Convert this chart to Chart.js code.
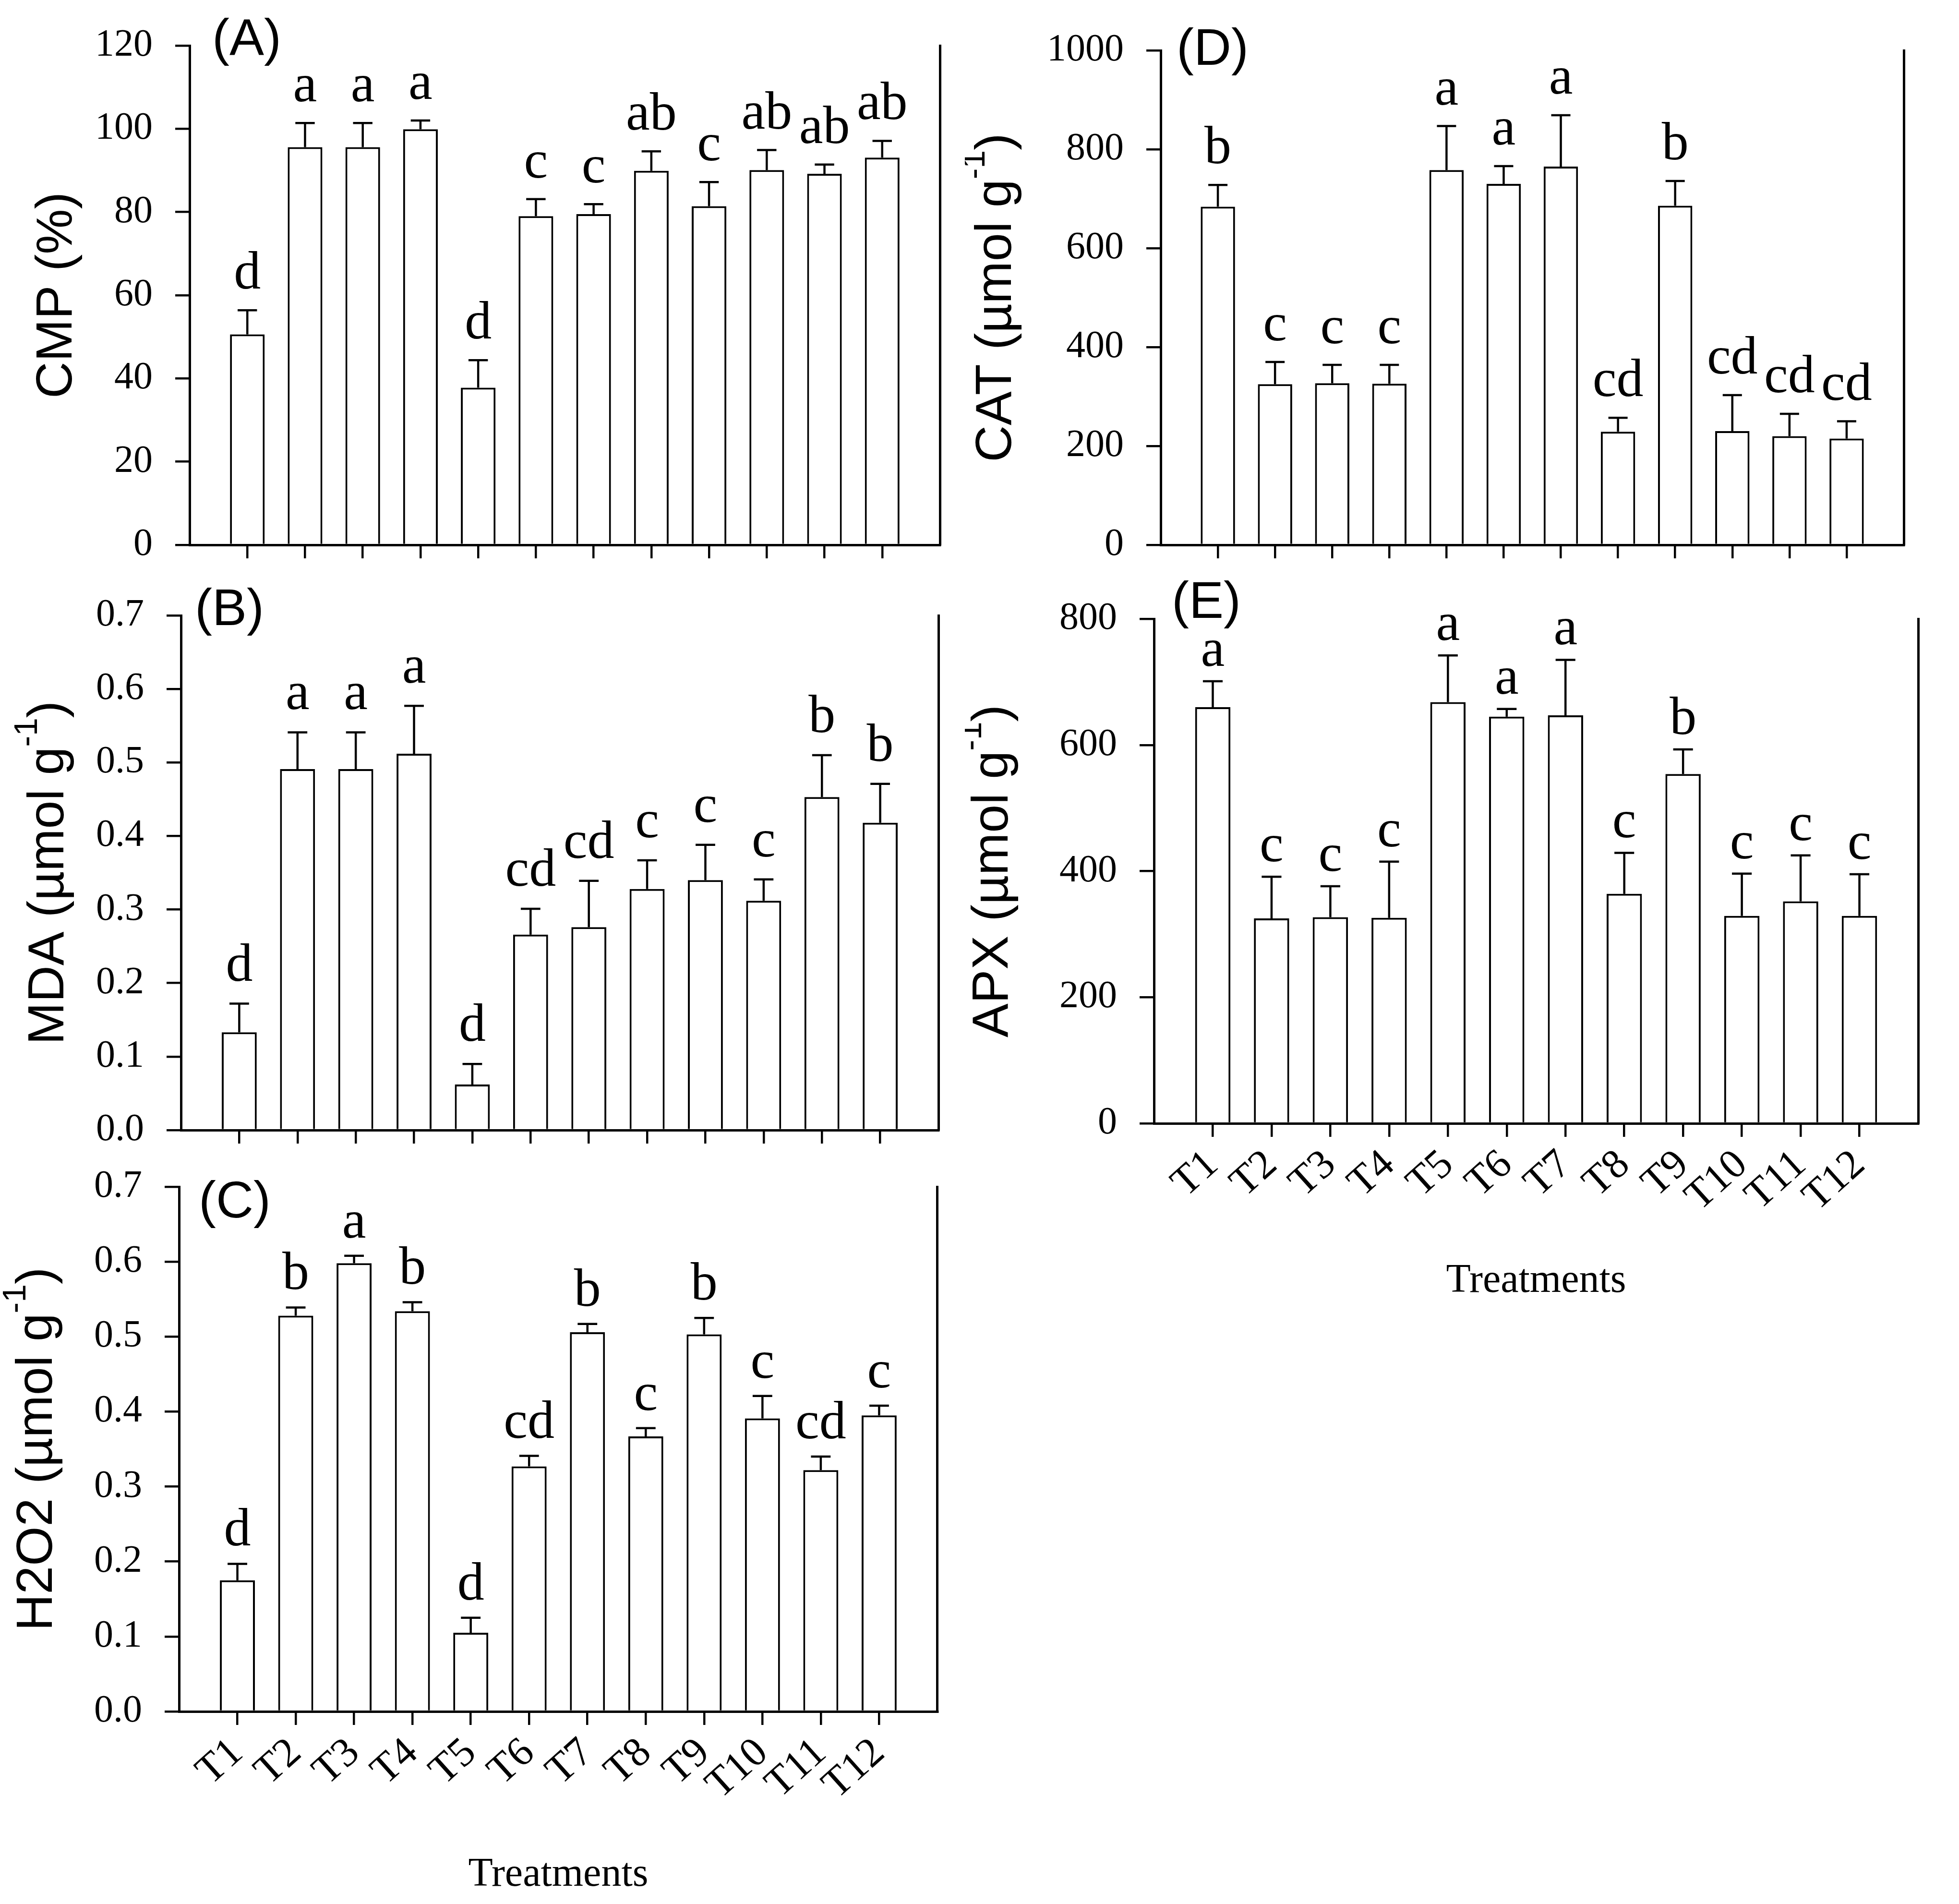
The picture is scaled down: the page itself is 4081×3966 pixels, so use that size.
<!DOCTYPE html>
<html>
<head>
<meta charset="utf-8">
<script src="https://cdn.jsdelivr.net/npm/chart.js@4.4.0/dist/chart.umd.min.js"></script>
<style>
html, body { margin: 0; padding: 0; background: #fff; }
body { width: 4081px; height: 3966px; position: relative; overflow: hidden; }
canvas { position: absolute; }
</style>
</head>
<body>
<canvas id="panelA"></canvas>
<canvas id="panelB"></canvas>
<canvas id="panelC"></canvas>
<canvas id="panelD"></canvas>
<canvas id="panelE"></canvas>
<script>
// treatments on the x axis
const treatments = ['T1', 'T2', 'T3', 'T4', 'T5', 'T6', 'T7', 'T8', 'T9', 'T10', 'T11', 'T12'];

// (A) CMP (%)
const cmpMean = [50.6, 95.6, 95.6, 99.9, 37.8, 79.0, 79.5, 89.9, 81.4, 90.1, 89.2, 93.1];
const cmpErr = [5.8, 5.8, 5.8, 2.1, 6.6, 4.1, 2.4, 4.7, 5.8, 4.8, 2.2, 4.0];
const cmpLetters = ['d', 'a', 'a', 'a', 'd', 'c', 'c', 'ab', 'c', 'ab', 'ab', 'ab'];

// (B) MDA
const mdaMean = [0.133, 0.491, 0.491, 0.512, 0.062, 0.266, 0.276, 0.328, 0.340, 0.312, 0.453, 0.418];
const mdaErr = [0.039, 0.050, 0.050, 0.065, 0.028, 0.035, 0.063, 0.039, 0.048, 0.029, 0.057, 0.053];
const mdaLetters = ['d', 'a', 'a', 'a', 'd', 'cd', 'cd', 'c', 'c', 'c', 'b', 'b'];

// (C) H2O2
const h2o2Mean = [0.175, 0.528, 0.598, 0.534, 0.105, 0.327, 0.506, 0.367, 0.503, 0.391, 0.322, 0.395];
const h2o2Err = [0.022, 0.011, 0.010, 0.012, 0.020, 0.014, 0.011, 0.011, 0.022, 0.030, 0.018, 0.013];
const h2o2Letters = ['d', 'b', 'a', 'b', 'd', 'cd', 'b', 'c', 'b', 'c', 'cd', 'c'];

// (D) CAT
const catMean = [684, 325, 327, 326, 758, 730, 765, 229, 686, 230, 220, 215];
const catErr = [44, 45, 37, 38, 89, 36, 104, 28, 50, 73, 45, 35];
const catLetters = ['b', 'c', 'c', 'c', 'a', 'a', 'a', 'cd', 'b', 'cd', 'cd', 'cd'];

// (E) APX
const apxMean = [660, 325, 327, 326, 668, 645, 647, 364, 554, 329, 352, 329];
const apxErr = [41, 66, 49, 89, 74, 12, 88, 65, 39, 67, 73, 66];
const apxLetters = ['a', 'c', 'c', 'c', 'a', 'a', 'a', 'c', 'b', 'c', 'c', 'c'];

const SERIF = '"Liberation Serif", "Times New Roman", serif';
const SANS = '"Liberation Sans", Arial, sans-serif';

// error bars, significance letters, panel tag and axis titles
const panelDecor = {
  id: 'panelDecor',
  afterDatasetsDraw(chart) {
    const o = chart.options.plugins.panelDecor;
    const ctx = chart.ctx;
    const meta = chart.getDatasetMeta(0);
    const y = chart.scales.y;
    const area = chart.chartArea;
    ctx.save();
    ctx.strokeStyle = '#000';
    ctx.fillStyle = '#000';
    ctx.lineWidth = 4.5;
    ctx.lineCap = 'butt';
    for (let i = 0; i < o.means.length; i++) {
      const bar = meta.data[i + 1];
      const x = bar.x;
      const yv = y.getPixelForValue(o.means[i]);
      const ye = y.getPixelForValue(o.means[i] + o.errors[i]);
      const half = bar.width * 0.28;
      ctx.beginPath();
      ctx.moveTo(x, yv);
      ctx.lineTo(x, ye);
      ctx.moveTo(x - half, ye);
      ctx.lineTo(x + half, ye);
      ctx.stroke();
      ctx.font = '112px ' + SERIF;
      ctx.textAlign = 'center';
      ctx.textBaseline = 'alphabetic';
      ctx.fillText(o.letters[i], x, ye - o.gap);
    }

    // panel tag
    ctx.font = '108px ' + SANS;
    ctx.textAlign = 'left';
    ctx.fillText(o.tag, area.left + o.tagDx, area.top + o.tagDy);

    // rotated y title with superscript
    const f = 106, fs = 68;
    ctx.save();
    ctx.translate(o.titleX - o.boxX, (area.top + area.bottom) / 2 + o.titleDy);
    ctx.rotate(-Math.PI / 2);
    ctx.font = f + 'px ' + SANS;
    const w1 = ctx.measureText(o.title[0]).width;
    const w3 = ctx.measureText(o.title[2]).width;
    ctx.font = fs + 'px ' + SANS;
    const w2 = o.title[1] ? ctx.measureText(o.title[1]).width : 0;
    let x0 = -(w1 + w2 + w3) / 2;
    ctx.textAlign = 'left';
    ctx.font = f + 'px ' + SANS;
    ctx.fillText(o.title[0], x0, 0);
    if (o.title[1]) {
      ctx.font = fs + 'px ' + SANS;
      ctx.fillText(o.title[1], x0 + w1, -0.52 * f);
    }
    ctx.font = f + 'px ' + SANS;
    ctx.fillText(o.title[2], x0 + w1 + w2, 0);
    ctx.restore();

    if (o.xTitle) {
      ctx.font = '84px ' + SERIF;
      ctx.textAlign = 'center';
      ctx.fillText('Treatments', (area.left + area.right) / 2, area.bottom + o.xTitleDy);
    }
    ctx.restore();
  }
};

function makePanel(id, box, area, p) {
  const cv = document.getElementById(id);
  cv.width = box.w;
  cv.height = box.h;
  cv.style.left = box.x + 'px';
  cv.style.top = box.y + 'px';
  cv.style.width = box.w + 'px';
  cv.style.height = box.h + 'px';
  const n = treatments.length + 2;
  const leftW = area.l - box.x;
  const rightW = box.x + box.w - area.r;
  const bottomH = box.y + box.h - area.b;
  return new Chart(cv, {
    type: 'bar',
    data: {
      labels: ['', ...treatments, ''],
      datasets: [{
        data: [null, ...p.means, null],
        backgroundColor: '#fff',
        borderColor: '#000',
        borderWidth: 4,
        borderSkipped: 'bottom',
        barPercentage: 0.6,
        categoryPercentage: 1
      }]
    },
    options: {
      responsive: false,
      animation: false,
      devicePixelRatio: 1,
      layout: { padding: { left: 0, top: area.t - box.y, right: 0, bottom: 0 } },
      plugins: {
        legend: { display: false },
        tooltip: { enabled: false },
        panelDecor: {
          means: p.means, errors: p.errors, letters: p.letters, gap: p.gap,
          tag: p.tag, tagDx: p.tagDx, tagDy: p.tagDy,
          title: p.title, titleX: p.titleX, titleDy: p.titleDy || 0, boxX: box.x,
          xTitle: p.xLabels, xTitleDy: p.xTitleDy || 355
        }
      },
      scales: {
        x: {
          type: 'category',
          offset: false,
          afterFit: s => { s.height = bottomH; },
          grid: {
            offset: false,
            drawOnChartArea: false,
            drawTicks: true,
            tickLength: 28,
            lineWidth: 4.5,
            color: c => (c.index === 0 || c.index === n - 1) ? 'rgba(0,0,0,0)' : '#000'
          },
          border: { display: true, color: '#000', width: 5 },
          ticks: {
            display: p.xLabels,
            autoSkip: false,
            minRotation: 42,
            maxRotation: 42,
            padding: 8,
            color: '#000',
            font: { family: SERIF, size: 86 }
          }
        },
        y: {
          min: 0,
          max: p.max,
          afterFit: s => { s.width = leftW; },
          grid: { drawOnChartArea: false, drawTicks: true, tickLength: 30, lineWidth: 4.5, color: '#000' },
          border: { display: true, color: '#000', width: 5 },
          ticks: {
            stepSize: p.step,
            padding: 47,
            color: '#000',
            font: { family: SERIF, size: 80 },
            callback: p.fmt
          }
        },
        y2: {
          type: 'linear',
          position: 'right',
          min: 0,
          max: 1,
          afterFit: s => { s.width = rightW; },
          grid: { display: false, drawTicks: false },
          border: { display: true, color: '#000', width: 5 },
          ticks: { display: false }
        }
      }
    },
    plugins: [panelDecor]
  });
}

const intFmt = v => String(v);
const decFmt = v => Number(v).toFixed(1);

makePanel('panelA', { x: 0, y: -40, w: 2030, h: 1270 }, { l: 395, t: 95, r: 1958, b: 1152 }, {
  means: cmpMean, errors: cmpErr, letters: cmpLetters, gap: 45, max: 120, step: 20, fmt: intFmt,
  tag: '(A)', tagDx: 47, tagDy: 20, title: ['CMP (%)', '', ''], titleX: 149, xLabels: false
});
makePanel('panelB', { x: 0, y: 1150, w: 2030, h: 1300 }, { l: 377, t: 1282, r: 1955, b: 2354 }, {
  means: mdaMean, errors: mdaErr, letters: mdaLetters, gap: 48, max: 0.7, step: 0.1, fmt: decFmt,
  tag: '(B)', tagDx: 29, tagDy: 20, title: ['MDA (\u00b5mol g', '-1', ')'], titleX: 132, xLabels: false
});
makePanel('panelC', { x: 0, y: 2340, w: 2030, h: 1626 }, { l: 373, t: 2472, r: 1957, b: 3565 }, {
  means: h2o2Mean, errors: h2o2Err, letters: h2o2Letters, gap: 38, max: 0.7, step: 0.1, fmt: decFmt,
  tag: '(C)', tagDx: 41, tagDy: 64, title: ['H2O2 (\u00b5mol g', '-1', ')'], titleX: 108, xLabels: true, xTitleDy: 363
});
makePanel('panelD', { x: 2010, y: -40, w: 2071, h: 1270 }, { l: 2418, t: 105, r: 3966, b: 1155 }, {
  means: catMean, errors: catErr, letters: catLetters, gap: 45, max: 1000, step: 200, fmt: intFmt,
  tag: '(D)', tagDx: 33, tagDy: 30, title: ['CAT (\u00b5mol g', '-1', ')'], titleX: 2106, xLabels: false
});
makePanel('panelE', { x: 2010, y: 1150, w: 2071, h: 1680 }, { l: 2404, t: 1289, r: 3996, b: 2340 }, {
  means: apxMean, errors: apxErr, letters: apxLetters, gap: 32, max: 800, step: 200, fmt: intFmt,
  tag: '(E)', tagDx: 37, tagDy: -2, title: ['APX (\u00b5mol g', '-1', ')'], titleX: 2099, xLabels: true, xTitleDy: 351
});
</script>
</body>
</html>
